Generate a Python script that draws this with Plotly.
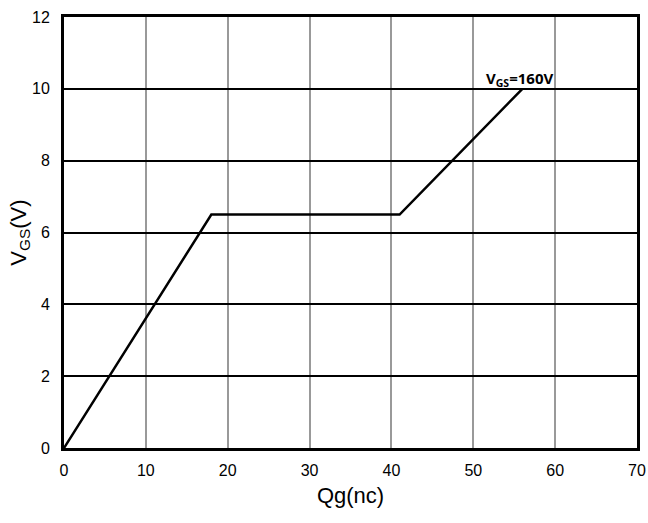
import plotly.graph_objects as go

qg = [0, 18, 41, 56]
vgs = [0, 6.5, 6.5, 10]
x_ticks = [0, 10, 20, 30, 40, 50, 60, 70]
y_ticks = [0, 2, 4, 6, 8, 10, 12]
label_text = "V<sub>GS</sub>=160V"

fig = go.Figure()
fig.add_trace(go.Scatter(x=qg, y=vgs, mode="lines",
                         line=dict(color="black", width=2.5), showlegend=False))

fig.add_annotation(x=qg[-1], y=vgs[-1], text="<b>" + label_text + "</b>",
                   showarrow=False, xanchor="center", yanchor="bottom",
                   font=dict(family="Noto Sans, Arial", size=15, color="black"),
                   yshift=-3, xshift=-3)

font = dict(family="Liberation Sans, Arial", size=16, color="black")
tfont = dict(family="Liberation Sans, Arial", size=22, color="black")
fig.update_xaxes(range=[0, 70], tickvals=x_ticks, ticktext=[str(v) for v in x_ticks],
                 showgrid=True, gridcolor="#999999", gridwidth=2,
                 showline=True, linecolor="black", linewidth=3, mirror=True,
                 zeroline=False, tickfont=font, ticks="outside", ticklen=6, tickcolor="rgba(0,0,0,0)",
                 automargin=False,
                 title=dict(text="Qg(nc)", font=tfont, standoff=10))
fig.update_yaxes(range=[0, 12], tickvals=y_ticks, ticktext=[str(v) for v in y_ticks],
                 showgrid=True, gridcolor="black", gridwidth=2,
                 showline=True, linecolor="black", linewidth=3, mirror=True,
                 zeroline=False, tickfont=font, ticks="outside", ticklen=8, tickcolor="rgba(0,0,0,0)",
                 automargin=False,
                 title=dict(text="V<sub>GS</sub>(V)", font=tfont, standoff=0))

fig.update_layout(width=648, height=523, margin=dict(l=64, r=11, t=17, b=75),
                  plot_bgcolor="white", paper_bgcolor="white")
fig.write_html("out.html")
